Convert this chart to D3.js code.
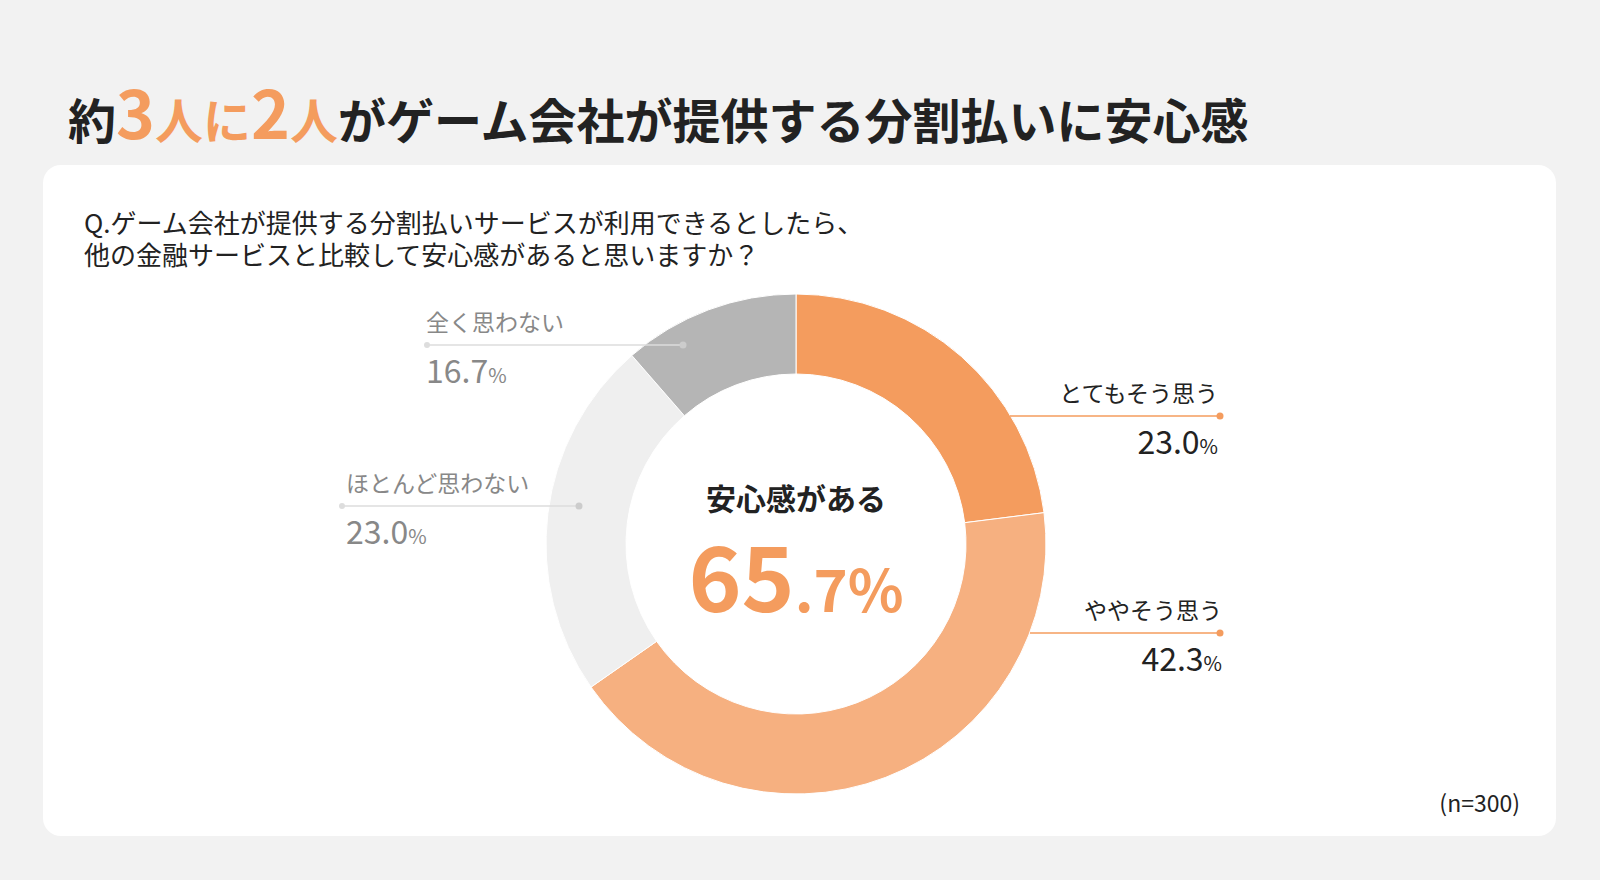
<!DOCTYPE html><html><head><meta charset="utf-8">
<script src="https://cdn.jsdelivr.net/npm/d3@7"></script>
<style>body{margin:0;background:#f2f2f2;font-family:"Noto Sans CJK JP","Noto Sans",sans-serif}</style></head><body>
<svg id="c" width="1600" height="880"></svg>
<script>
const categories=["とてもそう思う","ややそう思う","ほとんど思わない","全く思わない"];
const labelValues=["23.0","42.3","23.0","16.7"];
const arcValues=[23.0,42.3,23.3,11.4];
const colors=["#f49c5e","#f6b080","#efefef","#b5b5b5"];
const svg=d3.select("#c");
const F='"Noto Sans CJK JP",sans-serif';
const t=svg.append("text").attr("x",68).attr("y",139).attr("font-family",F).attr("font-weight",700).attr("fill","#222");
[["約",48,"#222"],["3",66,"#f49c5e"],["人に",48,"#f49c5e"],["2",66,"#f49c5e"],["人",48,"#f49c5e"],["がゲーム会社が提供する分割払いに安心感",48,"#222"]].forEach(d=>t.append("tspan").attr("font-size",d[1]).attr("fill",d[2]).text(d[0]));
svg.append("rect").attr("x",43).attr("y",165).attr("width",1513).attr("height",671).attr("rx",18).attr("fill","#fff");
svg.append("text").attr("x",84).attr("y",233).attr("font-size",26).attr("font-family",F).attr("fill","#222").text("Q.ゲーム会社が提供する分割払いサービスが利用できるとしたら、");
svg.append("text").attr("x",84).attr("y",265).attr("font-size",26).attr("font-family",F).attr("fill","#222").text("他の金融サービスと比較して安心感があると思いますか？");
const cx=796,cy=544;
const pie=d3.pie().sort(null).value(d=>d)(arcValues);
const arc=d3.arc().innerRadius(170).outerRadius(250);
svg.append("g").attr("transform",`translate(${cx},${cy})`).selectAll("path").data(pie).join("path").attr("d",arc).attr("fill",(d,i)=>colors[i]).attr("stroke","#fff").attr("stroke-width",1);
svg.append("text").attr("x",cx).attr("y",510).attr("text-anchor","middle").attr("font-size",30).attr("font-weight",700).attr("font-family",F).attr("fill","#222").text("安心感がある");
const ct=svg.append("text").attr("x",cx).attr("y",612).attr("text-anchor","middle").attr("font-weight",700).attr("font-family",F).attr("fill","#f49c5e");
ct.append("tspan").attr("font-size",90).text("65");ct.append("tspan").attr("font-size",58).text(".7%");
const L=[
 {x1:1010,x2:1220,y:416,ta:"end",tx:1218,c:"#f49c5e",tc:"#222"},
 {x1:1030,x2:1220,y:633,ta:"end",tx:1222,c:"#f49c5e",tc:"#222"},
 {x1:342,x2:579,y:506,ta:"start",tx:346,c:"#ddd",tc:"#888",dot:"#ccc"},
 {x1:427,x2:683,y:345,ta:"start",tx:426,c:"#ddd",tc:"#888",dot:"#ccc"}
];
L.forEach((l,i)=>{
 svg.append("line").attr("x1",l.x1).attr("x2",l.x2).attr("y1",l.y).attr("y2",l.y).attr("stroke",l.c).attr("stroke-width",1.5);
 svg.append("circle").attr("cx",l.x2).attr("cy",l.y).attr("r",3.5).attr("fill",l.dot||l.c);
 if(l.ta==="start")svg.append("circle").attr("cx",l.x1).attr("cy",l.y).attr("r",3).attr("fill","#ddd");
 svg.append("text").attr("x",l.tx).attr("y",l.y-14).attr("text-anchor",l.ta).attr("font-size",23).attr("font-family",F).attr("fill",l.tc).text(categories[i]);
 const v=svg.append("text").attr("x",l.tx).attr("y",l.y+38).attr("text-anchor",l.ta).attr("font-family",F).attr("fill",l.tc);
 v.append("tspan").attr("font-size",32).text(labelValues[i]);v.append("tspan").attr("font-size",20).text("%");
});
svg.append("text").attr("x",1520).attr("y",812).attr("text-anchor","end").attr("font-size",23).attr("font-family",F).attr("fill","#222").text("(n=300)");
</script></body></html>
